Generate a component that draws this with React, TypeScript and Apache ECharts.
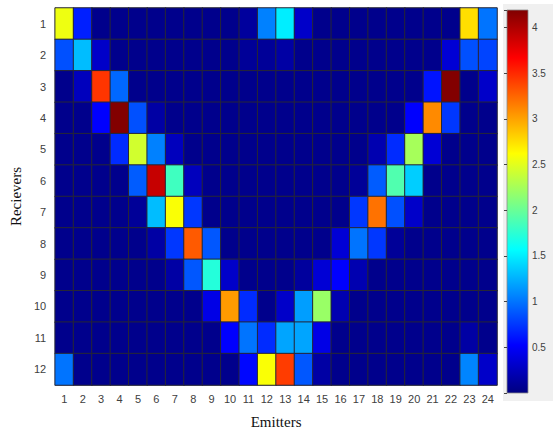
import React, { useEffect, useRef } from "react";
import * as echarts from "echarts";

const emitters = Array.from({ length: 24 }, (_, i) => String(i + 1));
const receivers = Array.from({ length: 12 }, (_, i) => String(i + 1));

const r1 = [2.55, 0.65, 0.05, 0.05, 0.05, 0.05, 0.05, 0.05, 0.05, 0.05, 0.12, 1.05, 1.5, 0.3, 0.05, 0.05, 0.05, 0.05, 0.05, 0.05, 0.05, 0.05, 2.75, 1.0];
const r2 = [0.85, 1.3, 0.3, 0.05, 0.05, 0.05, 0.05, 0.05, 0.05, 0.05, 0.1, 0.1, 0.15, 0.05, 0.05, 0.05, 0.05, 0.05, 0.05, 0.05, 0.05, 0.35, 0.85, 0.8];
const r3 = [0.05, 0.25, 3.45, 0.95, 0.05, 0.05, 0.05, 0.05, 0.05, 0.05, 0.05, 0.05, 0.05, 0.05, 0.05, 0.05, 0.05, 0.05, 0.05, 0.05, 0.6, 4.18, 0.05, 0.3];
const r4 = [0.05, 0.05, 0.52, 4.18, 0.85, 0.15, 0.05, 0.05, 0.05, 0.05, 0.05, 0.05, 0.05, 0.05, 0.05, 0.05, 0.05, 0.05, 0.05, 0.52, 3.1, 0.75, 0.05, 0.05];
const r5 = [0.05, 0.05, 0.05, 0.7, 2.43, 1.05, 0.25, 0.05, 0.05, 0.05, 0.05, 0.05, 0.05, 0.05, 0.05, 0.05, 0.05, 0.2, 0.7, 2.25, 0.35, 0.05, 0.05, 0.05];
const r6 = [0.05, 0.05, 0.05, 0.05, 0.9, 3.9, 1.83, 0.25, 0.05, 0.05, 0.05, 0.05, 0.05, 0.05, 0.05, 0.05, 0.1, 0.9, 1.9, 1.37, 0.05, 0.05, 0.05, 0.05];
const r7 = [0.05, 0.05, 0.05, 0.05, 0.1, 1.3, 2.6, 0.75, 0.05, 0.05, 0.05, 0.05, 0.05, 0.05, 0.05, 0.05, 0.75, 3.2, 0.85, 0.3, 0.05, 0.05, 0.05, 0.05];
const r8 = [0.05, 0.05, 0.05, 0.05, 0.05, 0.15, 0.75, 3.3, 0.88, 0.05, 0.05, 0.05, 0.05, 0.05, 0.05, 0.35, 1.0, 0.75, 0.1, 0.05, 0.05, 0.05, 0.05, 0.05];
const r9 = [0.05, 0.05, 0.05, 0.05, 0.05, 0.05, 0.15, 0.88, 1.72, 0.3, 0.05, 0.05, 0.05, 0.12, 0.35, 0.52, 0.2, 0.05, 0.05, 0.05, 0.05, 0.05, 0.05, 0.05];
const r10 = [0.05, 0.05, 0.05, 0.05, 0.05, 0.05, 0.05, 0.05, 0.42, 3.03, 0.7, 0.05, 0.3, 1.17, 2.2, 0.2, 0.05, 0.05, 0.05, 0.05, 0.05, 0.05, 0.05, 0.05];
const r11 = [0.05, 0.05, 0.05, 0.05, 0.05, 0.05, 0.05, 0.05, 0.05, 0.52, 1.0, 0.7, 1.2, 1.2, 0.42, 0.05, 0.05, 0.05, 0.05, 0.05, 0.05, 0.05, 0.15, 0.05];
const r12 = [1.0, 0.05, 0.05, 0.05, 0.05, 0.05, 0.05, 0.05, 0.05, 0.05, 0.55, 2.6, 3.42, 0.88, 0.15, 0.05, 0.05, 0.05, 0.05, 0.05, 0.05, 0.05, 1.07, 0.3];
const rows = [r1, r2, r3, r4, r5, r6, r7, r8, r9, r10, r11, r12];

const vMin = 0;
const vMax = 4.19;
const jet = ["#000080", "#0000ff", "#0080ff", "#00ffff", "#80ff80", "#ffff00", "#ff8000", "#ff0000", "#800000"];

export default function App() {
  const ref = useRef<HTMLDivElement>(null);
  useEffect(() => {
    document.body.style.margin = "0";
    const chart = echarts.init(ref.current!, null, { renderer: "svg" });
    const data: number[][] = [];
    rows.forEach((row, ri) => row.forEach((v, ci) => data.push([ci, ri, v])));

    const gx = 507, gy = 10, gw = 21, gh = 383;
    const rev = jet.slice().reverse();
    const stops = rev.map((c, i) => ({ offset: i / (rev.length - 1), color: c }));

    chart.setOption({
      animation: false,
      backgroundColor: "#ffffff",
      grid: [
        { left: 44, top: 8, width: 453, height: 387 },
        { left: gx, top: gy, width: gw, height: gh },
      ],
      xAxis: [
        {
          type: "category",
          data: emitters,
          gridIndex: 0,
          axisLine: { show: true, lineStyle: { color: "#a8a8a8" } },
          axisTick: { show: false },
          axisLabel: { color: "#404040", fontFamily: "Liberation Sans", fontSize: 11, margin: 8 },
          name: "Emitters",
          nameLocation: "middle",
          nameGap: 29,
          nameTextStyle: { fontFamily: "Liberation Serif", fontSize: 15, color: "#111" },
        },
        { type: "value", gridIndex: 1, show: false, min: 0, max: 1 },
      ],
      yAxis: [
        {
          type: "category",
          data: receivers,
          inverse: true,
          gridIndex: 0,
          axisLine: { show: true, lineStyle: { color: "#a8a8a8" } },
          axisTick: { show: false },
          axisLabel: { color: "#404040", fontFamily: "Liberation Sans", fontSize: 11, margin: 9 },
          name: "Recievers",
          nameLocation: "middle",
          nameGap: 26,
          nameTextStyle: { fontFamily: "Liberation Serif", fontSize: 15, color: "#111" },
        },
        {
          type: "value",
          gridIndex: 1,
          position: "right",
          min: vMin,
          max: vMax,
          interval: 0.5,
          splitLine: { show: false },
          axisLine: { show: false },
          axisTick: { show: true, inside: true, length: 3, lineStyle: { color: "#444" } },
          axisLabel: {
            color: "#404040",
            fontFamily: "Liberation Sans",
            fontSize: 10,
            margin: 4,
            formatter: (v: number) =>
              v > 0 && Math.abs(v * 2 - Math.round(v * 2)) < 1e-6 ? String(v) : "",
          },
        },
      ],
      visualMap: {
        show: false,
        type: "continuous",
        min: vMin,
        max: vMax,
        dimension: 2,
        seriesIndex: 0,
        inRange: { color: jet },
      },
      graphic: [
        {
          type: "rect",
          z: -10,
          shape: { x: 503, y: 4, width: 50, height: 397 },
          style: { fill: "#f0f0f0" },
        },
        {
          type: "rect",
          z: -5,
          shape: { x: gx, y: gy, width: gw, height: gh },
          style: {
            fill: {
              type: "linear",
              x: 0,
              y: 0,
              x2: 0,
              y2: 1,
              colorStops: stops,
            },
            stroke: "#8a8a8a",
            lineWidth: 0.8,
          },
        },
      ],
      series: [
        {
          type: "heatmap",
          xAxisIndex: 0,
          yAxisIndex: 0,
          data,
          itemStyle: { borderColor: "#262636", borderWidth: 1 },
          emphasis: { disabled: true },
        },
      ],
    });
    return () => chart.dispose();
  }, []);
  return <div ref={ref} style={{ width: 553, height: 434, position: "absolute", left: 0, top: 0 }} />;
}
